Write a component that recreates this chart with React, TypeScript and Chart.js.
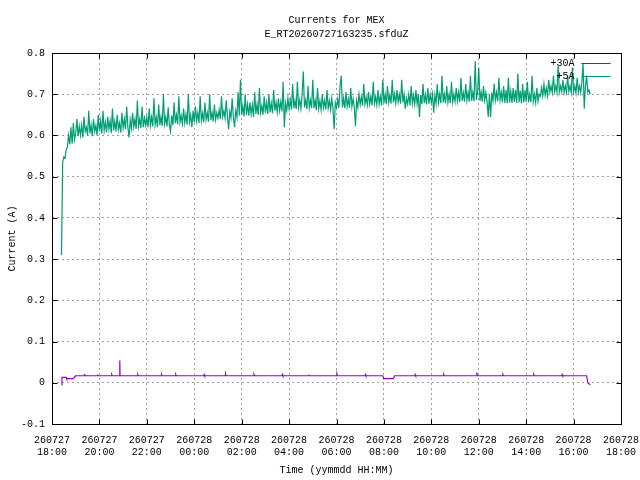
import { useEffect, useRef } from "react"
import { Chart, registerables, type Plugin } from "chart.js"

Chart.register(...registerables)

const FONT = "'Liberation Mono', 'DejaVu Sans Mono', monospace"

const titleLines = ["Currents for MEX", "E_RT20260727163235.sfduZ"]
const xAxisTitle = "Time (yymmdd HH:MM)"
const yAxisTitle = "Current (A)"

// x is hours since 260727 18:00
const xTickDates = ["260727", "260727", "260727", "260728", "260728", "260728", "260728", "260728", "260728", "260728", "260728", "260728", "260728"]
const xTickTimes = ["18:00", "20:00", "22:00", "00:00", "02:00", "04:00", "06:00", "08:00", "10:00", "12:00", "14:00", "16:00", "18:00"]

const seriesLabels = ["+30A", "+5A"]
const seriesColors = ["#9400d3", "#009e73"]

// +5A: sampled every 3 minutes from 18:24
const greenStart = 0.4
const greenStep = 0.05
const greenValues = [
  0.31, 0.535, 0.548, 0.545, 0.566, 0.572, 0.6, 0.578, 0.62, 0.58, 0.63, 0.59,
  0.605, 0.64, 0.598, 0.622, 0.6, 0.625, 0.595, 0.645, 0.61, 0.62, 0.6, 0.66, 0.605, 0.625, 0.598, 0.64, 0.61, 0.624, 0.6, 0.65,
  0.61, 0.635, 0.605, 0.66, 0.612, 0.632, 0.608, 0.645, 0.615, 0.636, 0.606, 0.665, 0.612, 0.634, 0.61, 0.65, 0.614, 0.63, 0.607, 0.655,
  0.618, 0.64, 0.615, 0.67, 0.62, 0.595, 0.638, 0.617, 0.655, 0.62, 0.64, 0.616, 0.685, 0.622, 0.64, 0.618, 0.67, 0.62, 0.642, 0.625,
  0.645, 0.62, 0.665, 0.624, 0.645, 0.622, 0.69, 0.626, 0.644, 0.62, 0.675, 0.625, 0.646, 0.623, 0.7, 0.628, 0.645, 0.622, 0.668, 0.626,
  0.61, 0.648, 0.625, 0.68, 0.63, 0.65, 0.627, 0.695, 0.632, 0.648, 0.628, 0.665, 0.63, 0.652, 0.626, 0.7, 0.633, 0.65, 0.62, 0.66,
  0.632, 0.67, 0.635, 0.655, 0.63, 0.695, 0.636, 0.654, 0.632, 0.68, 0.638, 0.655, 0.633, 0.7, 0.637, 0.656, 0.634, 0.675, 0.638, 0.655,
  0.642, 0.662, 0.64, 0.695, 0.645, 0.66, 0.642, 0.685, 0.646, 0.615, 0.658, 0.643, 0.69, 0.645, 0.62, 0.66, 0.644, 0.705, 0.648, 0.735,
  0.65, 0.672, 0.646, 0.7, 0.65, 0.675, 0.648, 0.68, 0.652, 0.674, 0.645, 0.705, 0.652, 0.676, 0.65, 0.715, 0.655, 0.672, 0.65, 0.695,
  0.655, 0.68, 0.652, 0.7, 0.656, 0.678, 0.654, 0.71, 0.66, 0.68, 0.656, 0.69, 0.66, 0.682, 0.658, 0.73, 0.62, 0.678, 0.66, 0.69,
  0.665, 0.686, 0.663, 0.725, 0.666, 0.685, 0.664, 0.73, 0.668, 0.686, 0.665, 0.7, 0.755, 0.668, 0.686, 0.664, 0.72, 0.667, 0.686, 0.666,
  0.735, 0.666, 0.685, 0.662, 0.715, 0.665, 0.684, 0.662, 0.7, 0.667, 0.685, 0.663, 0.71, 0.666, 0.684, 0.662, 0.69, 0.665, 0.615, 0.68,
  0.668, 0.688, 0.667, 0.72, 0.745, 0.668, 0.69, 0.666, 0.705, 0.67, 0.688, 0.667, 0.715, 0.67, 0.689, 0.668, 0.623, 0.685, 0.668, 0.7,
  0.675, 0.694, 0.672, 0.725, 0.676, 0.693, 0.674, 0.705, 0.675, 0.695, 0.673, 0.73, 0.677, 0.694, 0.674, 0.71, 0.676, 0.695, 0.673, 0.735,
  0.678, 0.7, 0.676, 0.72, 0.68, 0.698, 0.677, 0.735, 0.68, 0.7, 0.678, 0.71, 0.681, 0.699, 0.677, 0.735, 0.68, 0.7, 0.665, 0.69,
  0.676, 0.7, 0.673, 0.72, 0.677, 0.698, 0.675, 0.71, 0.676, 0.7, 0.645, 0.698, 0.676, 0.725, 0.678, 0.699, 0.675, 0.715, 0.677, 0.7,
  0.68, 0.7, 0.655, 0.698, 0.678, 0.725, 0.68, 0.7, 0.678, 0.745, 0.68, 0.7, 0.678, 0.72, 0.68, 0.7, 0.679, 0.73, 0.681, 0.7,
  0.682, 0.715, 0.683, 0.705, 0.681, 0.74, 0.684, 0.704, 0.682, 0.725, 0.685, 0.705, 0.682, 0.745, 0.684, 0.705, 0.683, 0.78, 0.686, 0.705,
  0.765, 0.684, 0.705, 0.682, 0.72, 0.685, 0.704, 0.683, 0.645, 0.7, 0.645, 0.704, 0.684, 0.725, 0.685, 0.705, 0.683, 0.74, 0.686, 0.705,
  0.68, 0.72, 0.679, 0.71, 0.678, 0.74, 0.68, 0.708, 0.679, 0.715, 0.681, 0.71, 0.679, 0.75, 0.68, 0.708, 0.678, 0.725, 0.68, 0.71,
  0.682, 0.73, 0.68, 0.7, 0.681, 0.745, 0.682, 0.7, 0.68, 0.715, 0.683, 0.7, 0.695, 0.716, 0.696, 0.725, 0.697, 0.715, 0.696, 0.735,
  0.705, 0.72, 0.704, 0.745, 0.706, 0.72, 0.704, 0.77, 0.705, 0.72, 0.706, 0.735, 0.704, 0.72, 0.705, 0.745, 0.706, 0.72, 0.704, 0.765,
  0.705, 0.72, 0.703, 0.74, 0.705, 0.72, 0.704, 0.73, 0.775, 0.665, 0.72, 0.745, 0.705, 0.71, 0.7,
]

// +30A: irregular samples (hours since 18:00)
const purpleTimes = [
  0.4, 0.42, 0.47, 0.6, 0.62, 0.9, 0.98, 1.0, 1.35, 1.37, 1.39, 1.9, 1.92, 1.94, 2.5, 2.52, 2.54, 2.85, 2.86, 2.87,
  3.6, 3.62, 3.64, 4.6, 4.62, 4.64, 5.2, 5.22, 5.24, 6.4, 6.42, 6.44, 7.3, 7.32, 7.34, 8.5, 8.52, 8.54,
  9.7, 9.72, 9.74, 10.8, 10.82, 10.84, 12.0, 12.02, 12.04, 13.2, 13.22, 13.24, 13.95, 14.0, 14.4, 14.45,
  15.3, 15.32, 15.34, 16.5, 16.52, 16.54, 17.9, 17.92, 17.94, 19.0, 19.02, 19.04, 20.3, 20.32, 20.34,
  21.5, 21.52, 21.54, 22.55, 22.6, 22.7,
]
const purpleValues = [
  -0.005, 0.013, 0.013, 0.013, 0.01, 0.01, 0.016, 0.017, 0.017, 0.021, 0.017, 0.017, 0.02, 0.017, 0.017, 0.02, 0.017, 0.017, 0.054, 0.017,
  0.017, 0.02, 0.017, 0.017, 0.02, 0.017, 0.017, 0.02, 0.017, 0.017, 0.02, 0.017, 0.017, 0.021, 0.017, 0.017, 0.02, 0.017,
  0.017, 0.02, 0.017, 0.017, 0.02, 0.017, 0.017, 0.021, 0.017, 0.017, 0.02, 0.017, 0.017, 0.01, 0.01, 0.017,
  0.017, 0.02, 0.017, 0.017, 0.02, 0.017, 0.017, 0.025, 0.017, 0.017, 0.02, 0.017, 0.017, 0.02, 0.017,
  0.017, 0.02, 0.017, 0.017, 0, -0.005,
]

const gnuplotFrame: Plugin = {
  id: "gnuplotFrame",
  afterDraw(chart) {
    const { ctx, chartArea: a, scales } = chart
    const left = Math.round(a.left) + 0.5
    const right = Math.round(a.right) + 0.5
    const top = Math.round(a.top) + 0.5
    const bottom = Math.round(a.bottom) + 0.5
    ctx.save()
    ctx.strokeStyle = "#000"
    ctx.lineWidth = 1
    ctx.setLineDash([])
    ctx.strokeRect(left, top, right - left, bottom - top)
    ctx.beginPath()
    for (const t of scales.x.ticks) {
      const px = Math.round(scales.x.getPixelForValue(t.value)) + 0.5
      ctx.moveTo(px, bottom)
      ctx.lineTo(px, bottom - 5)
      ctx.moveTo(px, top)
      ctx.lineTo(px, top + 5)
    }
    for (const t of scales.y.ticks) {
      const py = Math.round(scales.y.getPixelForValue(t.value)) + 0.5
      ctx.moveTo(left, py)
      ctx.lineTo(left + 5, py)
      ctx.moveTo(right, py)
      ctx.lineTo(right - 5, py)
    }
    ctx.stroke()

    // key, gnuplot style: label then line sample
    ctx.font = `10px ${FONT}`
    ctx.textAlign = "right"
    ctx.textBaseline = "middle"
    seriesLabels.forEach((label, i) => {
      const y = Math.round(a.top) + 10 + i * 13 + 0.5
      ctx.fillStyle = "#000"
      ctx.fillText(label, right - 47, y)
      ctx.strokeStyle = seriesColors[i]
      ctx.beginPath()
      ctx.moveTo(right - 40, y)
      ctx.lineTo(right - 11, y)
      ctx.stroke()
    })
    ctx.restore()
  },
}

export default function App() {
  const canvasRef = useRef<HTMLCanvasElement>(null)

  useEffect(() => {
    if (!canvasRef.current) return
    const greenData = greenValues.map((v, i) => ({ x: greenStart + i * greenStep, y: v }))
    const purpleData = purpleValues.map((v, i) => ({ x: purpleTimes[i], y: v }))

    const tickFont = { family: FONT, size: 10, lineHeight: 1.2 }

    const chart = new Chart(canvasRef.current, {
      type: "line",
      data: {
        datasets: [
          {
            label: seriesLabels[0],
            data: purpleData,
            borderColor: seriesColors[0],
            borderWidth: 1.2,
            pointRadius: 0,
            tension: 0,
          },
          {
            label: seriesLabels[1],
            data: greenData,
            borderColor: seriesColors[1],
            borderWidth: 1.2,
            pointRadius: 0,
            tension: 0,
          },
        ],
      },
      options: {
        animation: false,
        responsive: true,
        maintainAspectRatio: false,
        layout: { padding: { top: 0, right: 19, bottom: 0, left: 0 } },
        plugins: {
          legend: { display: false },
          tooltip: { enabled: false },
          title: {
            display: true,
            text: titleLines,
            fullSize: false,
            color: "#000",
            font: { family: FONT, size: 10, weight: "normal", lineHeight: 1.4 },
            padding: { top: 13, bottom: 12 },
          },
        },
        scales: {
          x: {
            type: "linear",
            min: 0,
            max: 24,
            afterFit: (s) => {
              s.height = 56
              s.paddingLeft = 0
              s.paddingRight = 0
            },
            ticks: {
              stepSize: 2,
              autoSkip: false,
              maxRotation: 0,
              color: "#000",
              font: tickFont,
              padding: 10,
              callback: (v) => {
                const i = Math.round(Number(v) / 2)
                return [xTickDates[i], xTickTimes[i]]
              },
            },
            grid: { color: "#a0a0a0", drawTicks: false, lineWidth: 1 },
            border: { display: false, dash: [2, 3] },
            title: {
              display: true,
              text: xAxisTitle,
              color: "#000",
              font: { family: FONT, size: 10 },
              padding: { top: 0, bottom: 4 },
            },
          },
          y: {
            min: -0.1,
            max: 0.8,
            afterFit: (s) => {
              s.width = 52
            },
            ticks: {
              stepSize: 0.1,
              color: "#000",
              font: tickFont,
              padding: 7,
              callback: (v) => {
                const r = Math.round(Number(v) * 10) / 10
                return r === 0 ? "0" : r.toFixed(1)
              },
            },
            grid: { color: "#a0a0a0", drawTicks: false, lineWidth: 1 },
            border: { display: false, dash: [2, 3] },
            title: {
              display: true,
              text: yAxisTitle,
              color: "#000",
              font: { family: FONT, size: 10 },
              padding: { top: 6, bottom: 0 },
            },
          },
        },
      },
      plugins: [gnuplotFrame],
    })

    return () => {
      chart.destroy()
    }
  }, [])

  return (
    <div style={{ position: "absolute", left: 0, top: 0, width: 640, height: 480, background: "#fff" }}>
      <canvas ref={canvasRef} />
    </div>
  )
}
